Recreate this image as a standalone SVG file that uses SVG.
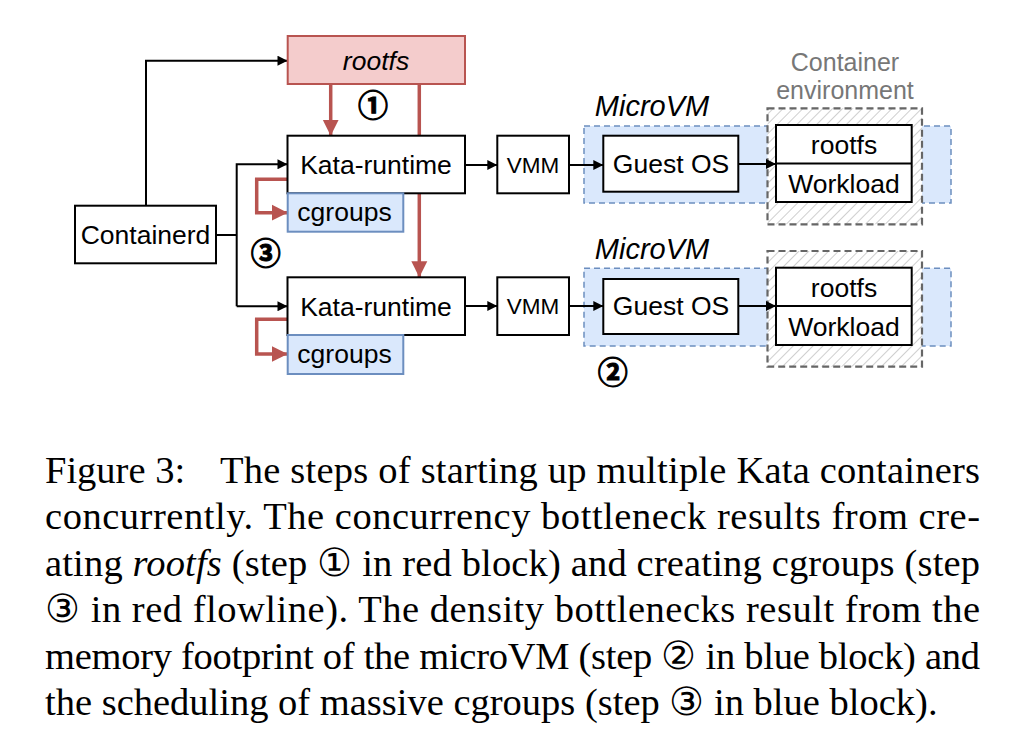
<svg xmlns="http://www.w3.org/2000/svg" width="1035" height="755" viewBox="0 0 1035 755">
<defs>
<style>
.box{fill:#ffffff;stroke:#000;stroke-width:2}
.lbl{font-family:"Liberation Sans",Arial,sans-serif;font-size:26.5px;fill:#000;text-anchor:middle}
.it{font-style:italic}
.mv{font-size:29px}
.vmm{font-size:22.5px}
.envt{font-size:25px;fill:#777}
.blk{fill:none;stroke:#000;stroke-width:2}
.red{fill:none;stroke:#b85450;stroke-width:3.5}
.num{font-family:"Noto Sans CJK SC","DejaVu Sans",sans-serif;font-weight:bold;font-size:30px;text-anchor:middle;fill:#000;stroke:#000;stroke-width:1}
.cap{font-family:"Liberation Serif","Times New Roman",serif;font-size:38.5px;fill:#000}
.mvm{fill:#dae8fc;stroke:#6c8ebf;stroke-width:1.5;stroke-dasharray:6 4}
.env{fill:url(#hatch);stroke:#666;stroke-width:2.2;stroke-dasharray:7 4}
</style>
<marker id="ab" viewBox="0 0 10 10" refX="10" refY="5" markerWidth="14" markerHeight="10" markerUnits="userSpaceOnUse" orient="auto"><path d="M0,0 L10,5 L0,10 Z" fill="#000"/></marker>
<marker id="ar" viewBox="0 0 10 10" refX="10" refY="5" markerWidth="16" markerHeight="17" markerUnits="userSpaceOnUse" orient="auto"><path d="M0,0 L10,5 L0,10 Z" fill="#b85450"/></marker>
<pattern id="hatch" patternUnits="userSpaceOnUse" width="7" height="8" patternTransform="rotate(45)"><rect width="7" height="8" fill="#fff"/><line x1="0" y1="0" x2="0" y2="8" stroke="#b5b5b5" stroke-width="1.3"/></pattern>
</defs>

<g id="microvm1"><rect class="mvm" x="584" y="126" width="367" height="77"/><text class="lbl it mv" x="652" y="116">MicroVM</text></g>
<g id="microvm2"><rect class="mvm" x="584" y="268.3" width="367" height="77.7"/><text class="lbl it mv" x="652" y="259">MicroVM</text></g>
<g id="env1"><rect class="env" x="767.5" y="108.3" width="154.5" height="116"/></g>
<g id="env2"><rect class="env" x="767.5" y="251" width="154.5" height="115.7"/></g>
<g id="env-label"><text class="lbl envt" x="845" y="71">Container</text><text class="lbl envt" x="845" y="99">environment</text></g>

<g id="connectors">
<polyline class="blk" points="146,206 146,60.7 287.5,60.7" marker-end="url(#ab)"/>
<polyline class="blk" points="216,235 236.7,235"/>
<polyline class="blk" points="236.7,306.3 236.7,164.3 287.5,164.3" marker-end="url(#ab)"/>
<polyline class="blk" points="236.7,306.3 287.5,306.3" marker-end="url(#ab)"/>
<line class="blk" x1="465" y1="165" x2="497.3" y2="165" marker-end="url(#ab)"/>
<line class="blk" x1="569" y1="165" x2="603.3" y2="165" marker-end="url(#ab)"/>
<line class="blk" x1="738.3" y1="164" x2="776" y2="164" marker-end="url(#ab)"/>
<line class="blk" x1="465" y1="306" x2="497.3" y2="306" marker-end="url(#ab)"/>
<line class="blk" x1="569" y1="306" x2="603.3" y2="306" marker-end="url(#ab)"/>
<line class="blk" x1="738.3" y1="306" x2="776" y2="306" marker-end="url(#ab)"/>
<line class="red" x1="330.7" y1="84" x2="330.7" y2="135.7" marker-end="url(#ar)"/>
<line class="red" x1="419.3" y1="84" x2="419.3" y2="277.3" marker-end="url(#ar)"/>
<polyline class="red" points="287.5,179.3 256.7,179.3 256.7,212.7 287.7,212.7" marker-end="url(#ar)"/>
<polyline class="red" points="287.5,319.3 256.7,319.3 256.7,354 287.7,354" marker-end="url(#ar)"/>
</g>

<g id="rootfs-top"><rect x="287.7" y="36" width="177.3" height="48" fill="#f4cccc" stroke="#b85450" stroke-width="2"/><text class="lbl it" x="376" y="70">rootfs</text></g>
<g id="containerd"><rect class="box" x="75" y="205.7" width="141" height="57.6"/><text class="lbl" x="145.5" y="244">Containerd</text></g>
<g id="kata1"><rect class="box" x="287.5" y="135.7" width="177.5" height="57.6"/><text class="lbl" x="376" y="174">Kata-runtime</text></g>
<g id="cgroups1"><rect x="287.7" y="193.3" width="115.6" height="38.4" fill="#dae8fc" stroke="#6c8ebf" stroke-width="2"/><text class="lbl" x="344.5" y="221">cgroups</text></g>
<g id="kata2"><rect class="box" x="287.5" y="277.3" width="177.5" height="57.7"/><text class="lbl" x="376" y="315.5">Kata-runtime</text></g>
<g id="cgroups2"><rect x="287.7" y="335" width="115.6" height="39" fill="#dae8fc" stroke="#6c8ebf" stroke-width="2"/><text class="lbl" x="344.5" y="363">cgroups</text></g>
<g id="vmm1"><rect class="box" x="497.3" y="135.7" width="71.7" height="57.6"/><text class="lbl vmm" x="533" y="173">VMM</text></g>
<g id="vmm2"><rect class="box" x="497.3" y="277.3" width="71.7" height="57.7"/><text class="lbl vmm" x="533" y="314">VMM</text></g>
<g id="guest1"><rect class="box" x="603.3" y="135.7" width="135" height="56"/><text class="lbl" x="671" y="173">Guest OS</text></g>
<g id="guest2"><rect class="box" x="603.3" y="279" width="135" height="55"/><text class="lbl" x="671" y="315">Guest OS</text></g>
<g id="cont1"><rect class="box" x="776" y="125" width="135.7" height="77" stroke-width="2.5"/><line x1="776" y1="163.5" x2="911.7" y2="163.5" stroke="#000" stroke-width="2"/><text class="lbl" x="844" y="154">rootfs</text><text class="lbl" x="844" y="193">Workload</text></g>
<g id="cont2"><rect class="box" x="776" y="267.7" width="135.7" height="77.3" stroke-width="2.5"/><line x1="776" y1="306" x2="911.7" y2="306" stroke="#000" stroke-width="2"/><text class="lbl" x="844" y="297">rootfs</text><text class="lbl" x="844" y="336">Workload</text></g>

<g id="steps"><text class="num" x="373" y="116">①</text><text class="num" x="265.7" y="264">③</text><text class="num" x="612.7" y="382.5">②</text></g>

<g id="caption">
<text class="cap" x="45" y="482.5">Figure 3:</text>
<text class="cap" x="220" y="482.5" textLength="760" lengthAdjust="spacing">The steps of starting up multiple Kata containers</text>
<text class="cap" x="45" y="529" textLength="935" lengthAdjust="spacing">concurrently.  The concurrency bottleneck results from cre-</text>
<text class="cap" x="45" y="575.5" textLength="935" lengthAdjust="spacing">ating <tspan font-style="italic">rootfs</tspan> (step ① in red block) and creating cgroups (step</text>
<text class="cap" x="45" y="622" textLength="935" lengthAdjust="spacing">③ in red flowline).  The density bottlenecks result from the</text>
<text class="cap" x="45" y="668.5" textLength="935" lengthAdjust="spacing">memory footprint of the microVM (step ② in blue block) and</text>
<text class="cap" x="45" y="715">the scheduling of massive cgroups (step ③ in blue block).</text>
</g>
</svg>
